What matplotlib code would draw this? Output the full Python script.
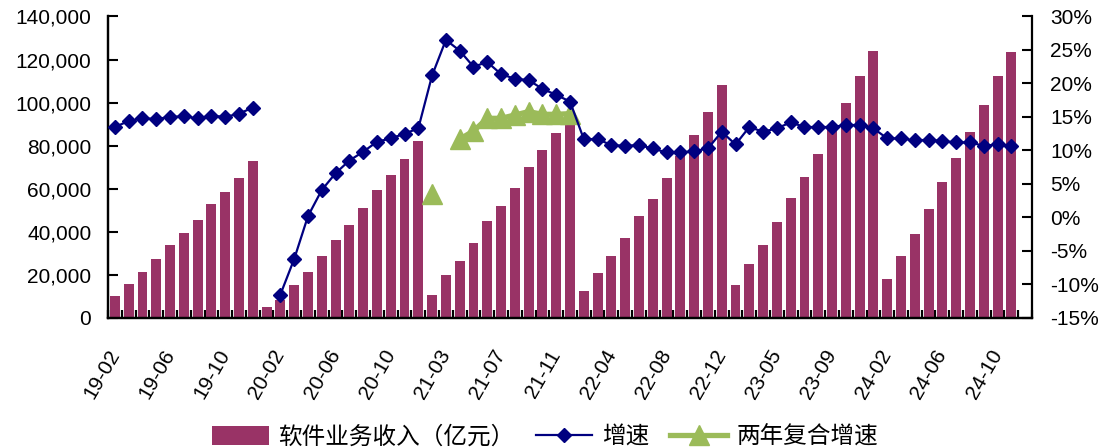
import numpy as np
import matplotlib.pyplot as plt
from matplotlib.ticker import FuncFormatter, MultipleLocator, FixedLocator
from matplotlib.lines import Line2D
from matplotlib.patches import Patch

BAR_COLOR = '#993366'
LINE_COLOR = '#000080'
CAGR_COLOR = '#9BBB59'

# month categories per year (Jan usually merged into Feb, 2020 has Jan, 24-12 is an empty slot)
YEAR_MONTHS = [
    ('19', [2, 3, 4, 5, 6, 7, 8, 9, 10, 11, 12]),
    ('20', [1, 2, 3, 4, 5, 6, 7, 8, 9, 10, 11, 12]),
    ('21', [2, 3, 4, 5, 6, 7, 8, 9, 10, 11, 12]),
    ('22', [2, 3, 4, 5, 6, 7, 8, 9, 10, 11, 12]),
    ('23', [2, 3, 4, 5, 6, 7, 8, 9, 10, 11, 12]),
    ('24', [2, 3, 4, 5, 6, 7, 8, 9, 10, 11, 12]),
]

# 软件业务收入（亿元）, cumulative
revenue = [
    10200, 15600, 21500, 27200, 33700, 39600, 45400, 52800, 58700, 65200, 72900,
    5000, 8400, 15300, 21500, 28700, 36200, 43300, 51000, 59300, 66600, 73900, 82100,
    10700, 19900, 26400, 34900, 45100, 52100, 60400, 70100, 77900, 86100, 95000,
    12500, 21000, 28900, 37200, 47300, 55200, 65200, 75100, 85200, 95500, 108000,
    15300, 25300, 34100, 44400, 55900, 65500, 76300, 88800, 99900, 112400, 124200,
    18100, 28900, 38900, 50400, 63200, 74300, 86400, 99100, 112400, 123600, None,
]

# 增速 (%)
growth = [
    13.5, 14.4, 14.8, 14.7, 15.0, 15.1, 14.8, 15.2, 15.0, 15.5, 16.4,
    None, -11.5, -6.2, 0.2, 4.1, 6.6, 8.5, 9.8, 11.3, 11.8, 12.5, 13.3,
    21.2, 26.5, 24.9, 22.5, 23.2, 21.4, 20.7, 20.5, 19.2, 18.3, 17.3,
    11.7, 11.7, 10.8, 10.7, 10.8, 10.3, 9.7, 9.7, 9.9, 10.3, 12.8,
    10.9, 13.5, 12.8, 13.3, 14.2, 13.5, 13.5, 13.5, 13.8, 13.8, 13.3,
    11.8, 11.8, 11.5, 11.6, 11.4, 11.2, 11.2, 10.7, 10.9, 10.7, None,
]

# 两年复合增速 (%), only 2021
cagr_2021 = [3.5, None, 11.7, 12.9, 14.8, 14.8, 15.3, 15.8, 15.4, 15.4, 15.5]
CAGR_START = 23  # index of 21-02

labels = []
for yy, months in YEAR_MONTHS:
    for m in months:
        labels.append(f"{yy}-{m:02d}")

n = len(labels)
x = np.arange(n)
rev = np.array(revenue, dtype=float)
gr = np.array(growth, dtype=float)
cagr = np.full(n, np.nan)
cagr[CAGR_START:CAGR_START + len(cagr_2021)] = np.array(cagr_2021, dtype=float)

plt.rcParams['font.family'] = ['Liberation Sans', 'DejaVu Sans']

fig = plt.figure(figsize=(11.18, 4.48), dpi=100)
ax = fig.add_axes([0.0966, 0.2902, 0.8265, 0.6730])
ax2 = ax.twinx()

# bars on the left axis
ax.bar(x, rev, width=0.72, color=BAR_COLOR, zorder=2)
ax.set_xlim(-0.5, n - 0.5)
ax.set_ylim(0, 140000)
ax.yaxis.set_major_locator(MultipleLocator(20000))
ax.yaxis.set_major_formatter(FuncFormatter(lambda v, p: f"{int(v):,}"))

# lines on the right axis
ax2.plot(x, cagr, color=CAGR_COLOR, lw=3.8, marker='^', ms=15, mec=CAGR_COLOR, zorder=3)
ax2.plot(x, gr, color=LINE_COLOR, lw=1.6, marker='D', ms=7, mec=LINE_COLOR, zorder=4)
ax2.set_ylim(-15, 30)
ax2.yaxis.set_major_locator(MultipleLocator(5))
ax2.yaxis.set_major_formatter(FuncFormatter(lambda v, p: f"{int(round(v))}%"))

# x ticks: labels every 4 months, small marks at category boundaries
tick_idx = list(range(0, n, 4))
ax.set_xticks(tick_idx)
ax.set_xticklabels([labels[i] for i in tick_idx], rotation=60, ha='right', va='center',
                   rotation_mode='anchor', fontsize=15)
ax.xaxis.set_minor_locator(FixedLocator(np.arange(-0.5, n, 1)))
ax.tick_params(axis='x', which='major', length=0, pad=24)
ax.tick_params(axis='x', which='minor', direction='in', length=6, width=1.6, color='black')
ax.tick_params(axis='y', direction='in', length=7, width=1.5, labelsize=15, pad=12)
ax2.tick_params(axis='y', direction='in', length=7, width=1.5, labelsize=15, pad=13)

# spines
for a in [ax, ax2]:
    a.spines['top'].set_visible(False)
    for s in ['left', 'right', 'bottom']:
        a.spines[s].set_linewidth(1.6)
        a.spines[s].set_color('black')
ax.spines['right'].set_visible(False)

# legend
handles = [
    Patch(facecolor=BAR_COLOR, edgecolor='none'),
    Line2D([], [], color=LINE_COLOR, lw=1.6, marker='D', ms=7, mec=LINE_COLOR),
    Line2D([], [], color=CAGR_COLOR, lw=3.8, marker='^', ms=14, mec=CAGR_COLOR),
]
names = ['软件业务收入（亿元）', '增速', '两年复合增速']
fig.legend(handles, names, loc='center', bbox_to_anchor=(545 / 1118, 1 - 437 / 448), ncol=3,
           frameon=False, prop={'family': ['Noto Sans CJK SC', 'DejaVu Sans'], 'size': 17},
           handlelength=2.4, handleheight=0.85, handletextpad=0.4, columnspacing=0.9,
           borderpad=0, borderaxespad=0)

plt.savefig('out.png', dpi=100)
